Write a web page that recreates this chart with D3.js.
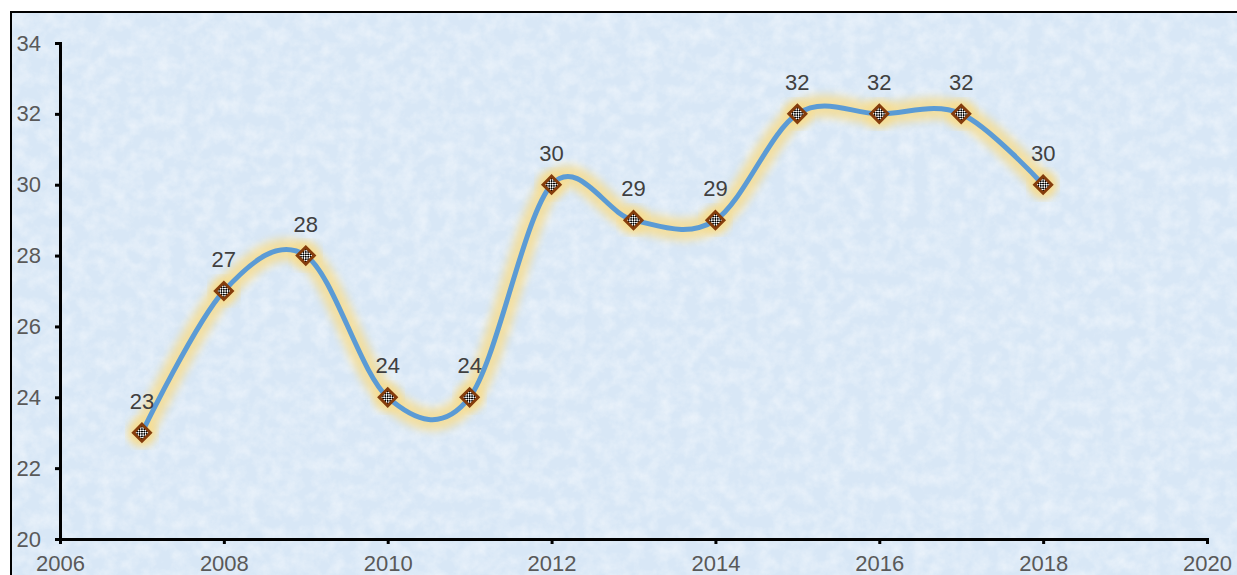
<!DOCTYPE html>
<html lang="en">
  <head>
    <meta charset="UTF-8" />
    <title>Line chart 2007-2018</title>
    <style>
      html, body { margin: 0; padding: 0; background: #fff; }
      svg { display: block; font-family: Arial, "Liberation Sans", sans-serif; }
      .axis path, .axis line { stroke: #000; stroke-width: 3; fill: none; }
      .axis text { fill: #595959; font-size: 22px; }
      .label { fill: #404040; font-size: 22px; }
    </style>
  </head>
  <body>
    <div id="chart"></div>
    <script src="https://d3js.org/d3.v7.min.js"></script>
    <script>
      const years = [2007, 2008, 2009, 2010, 2011, 2012, 2013, 2014, 2015, 2016, 2017, 2018];
      const values = [23, 27, 28, 24, 24, 30, 29, 29, 32, 32, 32, 30];
      const xTicks = [2006, 2008, 2010, 2012, 2014, 2016, 2018, 2020];
      const yTicks = [20, 22, 24, 26, 28, 30, 32, 34];

      const W = 1237, H = 575;
      const margin = { top: 43, right: 30, bottom: 36, left: 60 };

      const svg = d3.select('#chart').append('svg')
        .attr('width', W).attr('height', H);

      const defs = svg.append('defs');

      // paper-like texture for the background
      const tex = defs.append('filter').attr('id', 'tex')
        .attr('x', 0).attr('y', 0).attr('width', 1).attr('height', 1);
      tex.append('feTurbulence')
        .attr('type', 'fractalNoise').attr('baseFrequency', 0.07)
        .attr('numOctaves', 4).attr('seed', 11);
      tex.append('feColorMatrix').attr('type', 'matrix')
        .attr('values', '0 0 0 0 1  0 0 0 0 1  0 0 0 0 1  1.3 0 0 0 -0.45');

      const glow = defs.append('filter').attr('id', 'glow')
        .attr('x', '-10%').attr('y', '-10%').attr('width', '120%').attr('height', '120%');
      glow.append('feGaussianBlur').attr('stdDeviation', 4.5);

      // checker pattern for markers
      const pat = defs.append('pattern').attr('id', 'checker')
        .attr('width', 3.4).attr('height', 3.4)
        .attr('patternUnits', 'userSpaceOnUse');
      pat.append('rect').attr('width', 3.4).attr('height', 3.4).attr('fill', '#fff');
      pat.append('rect').attr('width', 1.7).attr('height', 1.7).attr('fill', '#000');
      pat.append('rect').attr('x', 1.7).attr('y', 1.7).attr('width', 1.7).attr('height', 1.7).attr('fill', '#000');

      // background + border
      svg.append('rect').attr('x', 11).attr('y', 12).attr('width', 1300).attr('height', 600)
        .attr('fill', '#d8e7f6');
      svg.append('rect').attr('x', 11).attr('y', 12).attr('width', 1300).attr('height', 600)
        .attr('fill', '#fff').attr('filter', 'url(#tex)').attr('opacity', 0.6);
      svg.append('rect').attr('x', 11).attr('y', 12).attr('width', 1300).attr('height', 600)
        .attr('fill', 'none').attr('stroke', '#000').attr('stroke-width', 2);

      const x = d3.scaleLinear().domain([2006, 2020]).range([margin.left, W - margin.right]);
      const y = d3.scaleLinear().domain([20, 34]).range([H - margin.bottom, margin.top]);

      svg.append('g').attr('class', 'axis')
        .attr('transform', `translate(0,${H - margin.bottom})`)
        .call(d3.axisBottom(x).tickValues(xTicks).tickFormat(d3.format('d'))
          .tickSizeInner(5).tickSizeOuter(5).tickPadding(11));

      svg.append('g').attr('class', 'axis')
        .attr('transform', `translate(${margin.left},0)`)
        .call(d3.axisLeft(y).tickValues(yTicks).tickSizeInner(5).tickSizeOuter(5).tickPadding(14));

      const data = years.map((yr, i) => ({ year: yr, value: values[i] }));

      const line = d3.line()
        .x(d => x(d.year)).y(d => y(d.value))
        .curve(d3.curveCardinal.tension(0));

      svg.append('path').datum(data)
        .attr('d', line).attr('fill', 'none')
        .attr('stroke', '#f7dc8c').attr('stroke-opacity', 0.8)
        .attr('stroke-width', 22).attr('stroke-linecap', 'round')
        .attr('filter', 'url(#glow)');

      svg.selectAll('.halo').data(data).enter().append('circle')
        .attr('cx', d => x(d.year)).attr('cy', d => y(d.value))
        .attr('r', 14).attr('fill', '#f7dc8c').attr('opacity', 0.8)
        .attr('filter', 'url(#glow)');

      svg.append('path').datum(data)
        .attr('d', line).attr('fill', 'none')
        .attr('stroke', '#5b9bd5').attr('stroke-width', 5)
        .attr('stroke-linecap', 'round');

      svg.selectAll('.marker').data(data).enter().append('rect')
        .attr('class', 'marker')
        .attr('x', -6).attr('y', -6).attr('width', 12).attr('height', 12)
        .attr('transform', d => `translate(${x(d.year)},${y(d.value)}) rotate(45)`)
        .attr('fill', 'url(#checker)')
        .attr('stroke', '#843c0c').attr('stroke-width', 3);

      svg.selectAll('.label').data(data).enter().append('text')
        .attr('class', 'label')
        .attr('x', d => x(d.year)).attr('y', d => y(d.value) - 24)
        .attr('text-anchor', 'middle')
        .text(d => d.value);
    </script>
  </body>
</html>
